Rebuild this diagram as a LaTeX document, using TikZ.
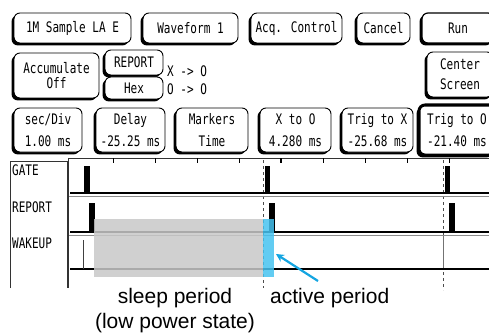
\documentclass[tikz,border=0pt]{standalone}
\usepackage{fontspec}
\usetikzlibrary{shadows,arrows.meta}
\newfontfamily\hpfont[FakeStretch=0.76]{DejaVu Sans Mono}
\newfontfamily\lblfont{Liberation Sans}
\newcommand{\hpsize}{\hpfont\fontsize{14.5}{16}\selectfont}
\newcommand{\lblsize}{\lblfont\fontsize{21}{24}\selectfont}
\definecolor{activeblue}{RGB}{70,195,240}
\definecolor{arrowblue}{RGB}{20,165,225}
\definecolor{sleepgray}{RGB}{200,200,200}
\begin{document}
\begin{tikzpicture}[x=1pt,y=-1pt,
  btn/.style={draw, line width=0.9pt, rounded corners=6pt, fill=white, font=\hpsize,
    inner sep=0pt, align=center,
    general shadow={fill=black, shadow xshift=-2.4pt, shadow yshift=-2.4pt}},
  selbtn/.style={btn, line width=3pt},
  plain/.style={font=\hpsize, inner sep=0pt, anchor=west},
  caption/.style={font=\lblsize, inner sep=0pt, anchor=base},
  baseline/.style={line width=2pt, line cap=rect},
  sepline/.style={line width=0.8pt, black!45},
  pulse/.style={fill=black},
  marker/.style={line width=1pt, black!70, dash pattern=on 3pt off 3pt},
  frame/.style={line width=1pt, black!80},
]
\useasboundingbox (0,0) rectangle (489,334);

% ---- row 1 buttons
\node[btn, minimum width=117pt, minimum height=30pt] (sample) at (72.5,28) {1M Sample LA E};
\node[btn, minimum width=95pt, minimum height=30pt] (wave) at (190.5,28) {Waveform 1};
\node[btn, minimum width=91pt, minimum height=30pt] (acq) at (296.5,28) {Acq. Control};
\node[btn, minimum width=53pt, minimum height=30pt] (cancel) at (383.5,28) {Cancel};
\node[btn, line width=1.2pt, minimum width=72pt, minimum height=30pt] (run) at (458,28) {Run};

% ---- row 2
\node[btn, minimum width=85pt, minimum height=45pt] (accum) at (56.5,75.5) {Accumulate\\[-1pt]Off};
\node[btn, minimum width=58pt, minimum height=25pt] (report) at (134,62.5) {REPORT};
\node[btn, minimum width=58pt, minimum height=22pt] (hex) at (134,88) {Hex};
\node[plain] (xo) at (167,71) {X -> O};
\node[plain] (oo) at (167,89) {O -> O};
\node[btn, minimum width=66pt, minimum height=45pt] (center) at (460,74.5) {Center\\[4pt]Screen};

% ---- row 3
\node[btn, minimum width=68pt, minimum height=44pt] (secdiv) at (48,130) {sec/Div\\[6pt]1.00 ms};
\node[btn, minimum width=69pt, minimum height=44pt] (delay) at (130.5,130) {Delay\\[6pt]-25.25 ms};
\node[btn, minimum width=72pt, minimum height=44pt] (markers) at (212,130) {Markers\\[6pt]Time};
\node[btn, minimum width=71pt, minimum height=44pt] (xto) at (295.5,130) {X to O\\[6pt]4.280 ms};
\node[btn, minimum width=71pt, minimum height=44pt] (trigx) at (377.5,130) {Trig to X\\[6pt]-25.68 ms};
\node[selbtn, minimum width=76pt, minimum height=50pt] (trigo) at (457,130) {Trig to O\\[6pt]-21.40 ms};

% ---- waveform frame
\draw[frame] (10,288) -- (10,161) -- (67,161) -- (67,288);
\draw[frame] (68,288) -- (68,158) -- (489,158);
\foreach \t in {113,155,197,239,323,365,407,449} \draw[line width=0.8pt] (\t,158) -- (\t,163);
\draw[line width=1.6pt] (281,158) -- (281,163);

\node[plain] (gate) at (12,170) {GATE};
\node[plain] (rep) at (12,207) {REPORT};
\node[plain] (wake) at (12,243) {WAKEUP};

% ---- markers
\draw[marker] (263,160) -- (263,288);
\draw[marker] (443,160) -- (443,236);
\draw[line width=1pt, black!55] (443,236) -- (443,269);
\draw[marker] (443,272) -- (443,290);

% ---- GATE
\draw[baseline] (71,193) -- (489,193);
\draw[sepline] (69,196.5) -- (489,196.5);
\fill[pulse] (84,166) rectangle (90,193);
\fill[pulse] (265,166) rectangle (270,193);
\fill[pulse] (445,166) rectangle (450,193);

% ---- REPORT
\draw[baseline] (71,232) -- (489,232);
\draw[sepline] (69,235.5) -- (489,235.5);
\fill[pulse] (89,203) rectangle (95,232);
\fill[pulse] (269,203) rectangle (275,232);
\fill[pulse] (449,203) rectangle (455,232);

% ---- WAKEUP
\draw[baseline] (71,269) -- (489,269);
\draw[line width=0.9pt, black!75] (83,240) -- (83,269);

% ---- highlighted periods
\fill[sleepgray, opacity=0.85] (94,219) rectangle (263,277);
\fill[activeblue, opacity=0.85] (263,219) rectangle (274,277);
\coordinate (tip) at (276,254);
\coordinate (tail) at (318,281);
\draw[arrowblue, line width=2.2pt, -{Stealth[length=8pt,width=8pt]}] (tail) -- (tip);

% ---- captions
\node[caption] (sleep) at (175,303) {sleep period};
\node[caption] (low) at (175,328) {(low power state)};
\node[caption, anchor=base west] (active) at (270,303) {active period};
\end{tikzpicture}
\end{document}
